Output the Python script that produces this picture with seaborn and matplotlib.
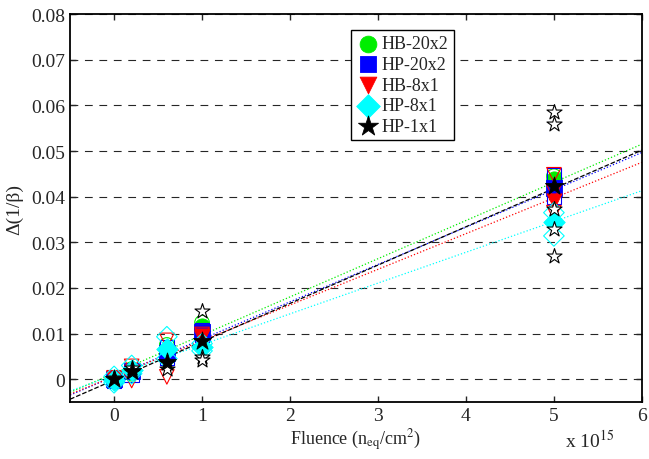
import numpy as np
import pandas as pd
import matplotlib
matplotlib.use("Agg")
import matplotlib.pyplot as plt
from matplotlib.ticker import FuncFormatter, MultipleLocator
import seaborn as sns

# Fluence in units of 1e15 n_eq/cm^2
fluence = [0, 0.2, 0.6, 1, 5]

series = ['HB-20x2', 'HP-20x2', 'HB-8x1', 'HP-8x1', 'HP-1x1']
colors = ['#00ee00', '#0000ff', '#ff0000', '#00ffff', '#000000']
markers = ['o', 's', 'v', 'D', '*']

# mean value of delta(1/beta) per fluence point (filled markers)
mean_hb20 = [0.0, 0.0018, 0.0060, 0.0117, 0.0438]
mean_hp20 = [0.0, 0.0017, 0.0058, 0.0103, 0.0420]
mean_hb8 = [0.0, 0.0015, 0.0055, 0.0095, 0.0390]
mean_hp8 = [-0.0002, 0.0020, 0.0066, 0.0070, 0.0344]
mean_hp1 = [0.0, 0.0018, 0.0037, 0.0084, 0.0424]
means = [mean_hb20, mean_hp20, mean_hb8, mean_hp8, mean_hp1]

# individual devices (open markers): fluence, value
ind_x_hb20 = [0.2, 0.2, 0.6, 0.6, 1, 1, 5, 5]
ind_y_hb20 = [0.0022, 0.0012, 0.0075, 0.0050, 0.0124, 0.0110, 0.0445, 0.0432]
ind_x_hp20 = [0, 0.2, 0.6, 0.6, 1, 1, 5, 5]
ind_y_hp20 = [-0.0004, 0.0010, 0.0070, 0.0048, 0.0108, 0.0098, 0.0447, 0.0400]
ind_x_hb8 = [0, 0.2, 0.2, 0.6, 0.6, 1, 1, 5, 5, 5]
ind_y_hb8 = [0.0003, 0.0028, -0.0003, 0.0085, 0.0005, 0.0098, 0.0090, 0.0448, 0.0410, 0.0365]
ind_x_hp8 = [0, 0, 0.2, 0.2, 0.6, 0.6, 1, 1, 5, 5]
ind_y_hp8 = [-0.0008, 0.0006, 0.0030, 0.0012, 0.0093, 0.0045, 0.0078, 0.0062, 0.0365, 0.0314]
ind_x_hp1 = [0, 0.2, 0.2, 0.6, 0.6, 1, 1, 1, 5, 5, 5, 5, 5]
ind_y_hp1 = [0.0002, 0.0015, 0.0025, 0.0022, 0.0035, 0.0150, 0.0048, 0.0043,
             0.0585, 0.0559, 0.0373, 0.0329, 0.0270]
ind_x = [ind_x_hb20, ind_x_hp20, ind_x_hb8, ind_x_hp8, ind_x_hp1]
ind_y = [ind_y_hb20, ind_y_hp20, ind_y_hb8, ind_y_hp8, ind_y_hp1]

# linear fits: slope (per 1e15) and intercept
fit_slope = [0.00837, 0.00818, 0.00782, 0.00675, 0.00840]
fit_icpt = [0.00129, 0.00059, 0.00061, 0.00081, -0.00020]
fit_style = [':', ':', ':', ':', '--']

sns.set_style("ticks")
plt.rcParams['font.family'] = ['Liberation Serif', 'DejaVu Serif']
plt.rcParams['mathtext.fontset'] = 'stix'
plt.rcParams['xtick.direction'] = 'in'
plt.rcParams['ytick.direction'] = 'in'

fig = plt.figure(figsize=(6.49, 4.6), dpi=100)
ax = fig.add_axes([0.108, 0.124, 0.881, 0.843])

xfit = np.array([-0.5, 6.0])
for i, name in enumerate(series):
    fit_df = pd.DataFrame({'x': xfit, 'y': fit_icpt[i] + fit_slope[i] * xfit})
    sns.lineplot(data=fit_df, x='x', y='y', ax=ax, color=colors[i],
                 linestyle=fit_style[i], linewidth=0.9, zorder=2)

# per series: individual devices (open) first, then the mean (filled) on top
for i, name in enumerate(series):
    star = markers[i] == '*'
    face = 'white' if star else 'none'
    sns.scatterplot(x=ind_x[i], y=ind_y[i], ax=ax, marker=markers[i],
                    s=130 if star else 110, facecolor=face, edgecolor=colors[i],
                    linewidth=0.8, zorder=3 + 2 * i)
    sns.scatterplot(x=fluence, y=means[i], ax=ax, color=colors[i], marker=markers[i],
                    s=190 if star else 120, edgecolor=colors[i], linewidth=0.6,
                    label=name, zorder=4 + 2 * i)

ax.set_xlim(-0.5, 6)
ax.set_ylim(-0.005, 0.08)
ax.xaxis.set_major_locator(MultipleLocator(1))
ax.yaxis.set_major_locator(MultipleLocator(0.01))
ax.yaxis.set_major_formatter(FuncFormatter(lambda v, p: '%g' % round(v, 4)))
ax.tick_params(axis='both', which='both', top=True, right=True, labelsize=14,
               length=4, width=1)
for s in ax.spines.values():
    s.set_linewidth(1.3)
    s.set_color('black')

ax.yaxis.grid(True, linestyle=(0, (7, 6)), color='0.15', linewidth=0.8)
ax.xaxis.grid(False)

ax.set_xlabel('Fluence (n$_{\\rm eq}$/cm$^2$)', fontsize=13, labelpad=2)
ax.set_ylabel('Δ(1/β)', fontsize=14, labelpad=6)
ax.text(0.865, -0.10, 'x 10$^{15}$', transform=ax.transAxes, fontsize=14,
        ha='left', va='center')

handles, labels = ax.get_legend_handles_labels()
leg = ax.legend(handles[:5], labels[:5], loc='upper left', bbox_to_anchor=(0.491, 0.959),
                borderaxespad=0, fancybox=False, framealpha=1, edgecolor='black',
                fontsize=13, handletextpad=0.1, borderpad=0.3, labelspacing=0.2,
                handlelength=1.3, markerscale=1.1)
leg.get_frame().set_linewidth(1.0)

fig.savefig('out.png', dpi=100)
